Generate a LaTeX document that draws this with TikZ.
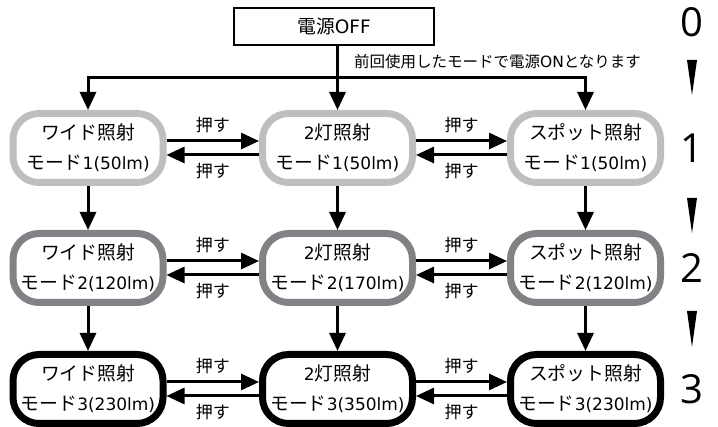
\documentclass[tikz,border=0pt]{standalone}
\usepackage{fontspec}
\setmainfont{DejaVu Sans}
\newfontfamily\jp{Noto Sans CJK JP}
\newfontfamily\numfont{Open Sans}
\usetikzlibrary{arrows.meta}
\definecolor{lvone}{HTML}{BCBEC0}
\definecolor{lvtwo}{HTML}{808285}
\tikzset{
  mode/.style={draw, rectangle, rounded corners=26pt, minimum width=150pt,
    minimum height=69pt, line width=7pt, fill=white, align=center,
    font=\fontsize{17}{30}\selectfont, inner sep=0pt},
  lvA/.style={mode, draw=lvone},
  lvB/.style={mode, draw=lvtwo},
  lvC/.style={mode, draw=black},
  conn/.style={line width=3pt, -{Triangle[length=18pt,width=16pt]}},
  plain/.style={line width=3pt},
  push/.style={font=\jp\fontsize{17}{17}\selectfont, inner sep=0pt},
  num/.style={font=\numfont\fontsize{40}{40}\selectfont, inner sep=0pt},
  tri/.style={fill=black, draw=none},
}
\newcommand{\J}[1]{{\jp\fontsize{18.8}{30}\selectfont #1}}
\begin{document}
\begin{tikzpicture}[x=1pt,y=-1pt]
\useasboundingbox (0,0) rectangle (718,427);
% top box
\node[draw, line width=1.2pt, minimum width=200pt, minimum height=37pt, inner sep=0pt,
  font=\fontsize{18.5}{20}\selectfont] (off) at (334,26.5) {\J{電源}OFF};
\node[font=\jp\fontsize{15.5}{16}\selectfont, inner sep=0pt] (note) at (497.5,62) {前回使用したモードで電源\textnormal{\fontsize{15.5}{16}\selectfont ON}となります};
% mode boxes
\node[lvA] (a1) at (88,148) {\J{ワイド照射}\\\J{モード}1(50lm)};
\node[lvA] (b1) at (337.5,148) {2\J{灯照射}\\\J{モード}1(50lm)};
\node[lvA] (c1) at (585.5,148) {\J{スポット照射}\\\J{モード}1(50lm)};
\node[lvB] (a2) at (88,268) {\J{ワイド照射}\\\J{モード}2(120lm)};
\node[lvB] (b2) at (337.5,268) {2\J{灯照射}\\\J{モード}2(170lm)};
\node[lvB] (c2) at (585.5,268) {\J{スポット照射}\\\J{モード}2(120lm)};
\node[lvC] (a3) at (88,389) {\J{ワイド照射}\\\J{モード}3(230lm)};
\node[lvC] (b3) at (337.5,389) {2\J{灯照射}\\\J{モード}3(350lm)};
\node[lvC] (c3) at (585.5,389) {\J{スポット照射}\\\J{モード}3(230lm)};
% junction from top box
\coordinate (j) at (337.5,78);
\coordinate (jl) at (88,78);
\coordinate (jr) at (585.5,78);
\draw[plain] (off.south -| j) -- (j);
\draw[plain, line cap=rect] (jl) -- (jr);
\draw[conn] (jl) -- (a1.north);
\draw[conn] (j) -- (b1.north);
\draw[conn] (jr) -- (c1.north);
% vertical arrows
\foreach \c in {a,b,c}{
  \draw[conn] (\c1.south) -- (\c2.north);
  \draw[conn] (\c2.south) -- (\c3.north);
}
% horizontal arrows
\foreach \r in {1,2,3}{
  \draw[conn] ([yshift=7pt]a\r.east) -- ([yshift=7pt]b\r.west)
     node[push, midway, above=7pt] {押す};
  \draw[conn] ([yshift=-7pt]b\r.west) -- ([yshift=-7pt]a\r.east)
     node[push, midway, below=7pt] {押す};
  \draw[conn] ([yshift=7pt]b\r.east) -- ([yshift=7pt]c\r.west)
     node[push, midway, above=7pt] {押す};
  \draw[conn] ([yshift=-7pt]c\r.west) -- ([yshift=-7pt]b\r.east)
     node[push, midway, below=7pt] {押す};
}
% level numbers
\node[num] (n0) at (692,22) {0};
\node[num] (n1) at (692,148) {1};
\node[num] (n2) at (692,268) {2};
\node[num] (n3) at (692,389) {3};
\fill[tri] (687,60) -- (697,60) -- (692,95) -- cycle;
\fill[tri] (687,198) -- (697,198) -- (692,233) -- cycle;
\fill[tri] (687,311) -- (697,311) -- (692,347) -- cycle;
\end{tikzpicture}
\end{document}
